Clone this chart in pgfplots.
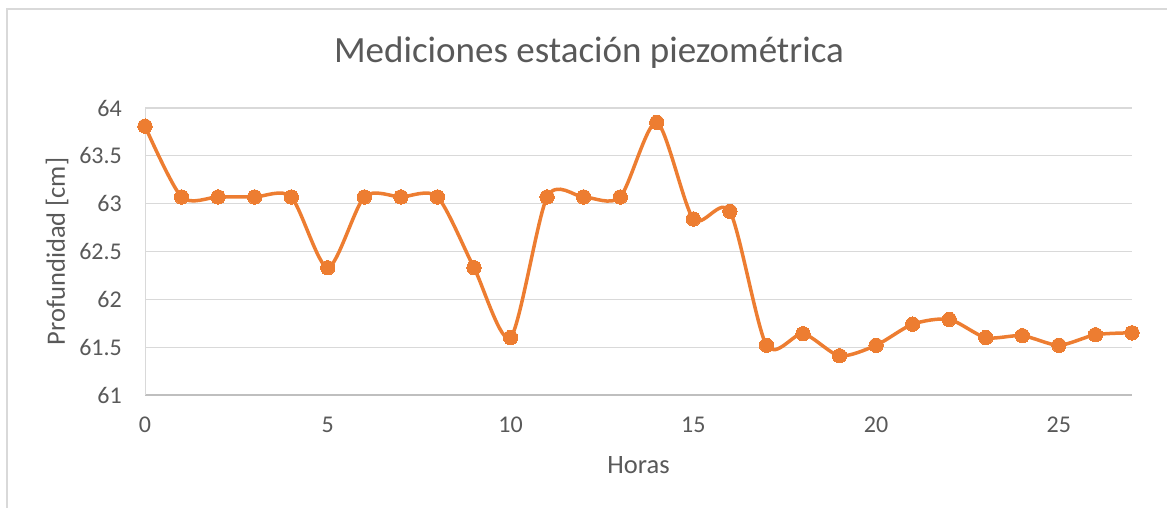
\documentclass[border=0pt]{standalone}
\usepackage{pgfplots}
\pgfplotsset{compat=1.18}
\usepackage{fontspec}
\setmainfont{Carlito}
\definecolor{txtgray}{RGB}{89,89,89}
\definecolor{gridgray}{RGB}{217,217,217}
\definecolor{axgray}{RGB}{191,191,191}
\definecolor{excelorange}{RGB}{237,125,49}
\begin{document}
\begin{tikzpicture}[x=1bp,y=1bp]
\path[use as bounding box] (0,0) rectangle (1167,508);
\draw[gridgray, line width=1.2bp] (7,0) -- (7,499) -- (1167,499);
\node[txtgray, font=\fontsize{37bp}{42bp}\selectfont] at (589,455) {Mediciones estación piezométrica};
\begin{axis}[
  at={(145bp,113bp)}, anchor=south west,
  scale only axis, width=987bp, height=287bp,
  xmin=0, xmax=27, ymin=61, ymax=64,
  xtick={0,5,...,25}, ytick={61,61.5,...,64},
  yticklabels={61,61.5,62,62.5,63,63.5,64},
  axis x line*=bottom, axis y line*=left,
  x axis line style={axgray, line width=1.2bp, -},
  y axis line style={gridgray, line width=1bp, -},
  ymajorgrids, grid style={gridgray, line width=1.2bp},
  major tick length=0pt,
  tick label style={txtgray, font=\fontsize{24bp}{28bp}\selectfont, inner sep=0pt},
  /pgf/number format/assume math mode=true,
  xticklabel style={anchor=center, yshift=-30bp},
  yticklabel style={anchor=east, xshift=-23bp},
  xlabel={Horas}, ylabel={Profundidad [cm]},
  label style={txtgray, font=\fontsize{26.5bp}{30bp}\selectfont},
  xlabel style={at={(axis description cs:0.5,-0.244)}, anchor=center},
  ylabel style={at={(axis description cs:-0.089,0.5)}, anchor=center},
  clip=false,
]
\addplot[excelorange, line width=3.5bp, smooth, tension=0.45,
  mark=*, mark size=7.2bp, mark options={fill=excelorange, draw=excelorange, line width=0bp}]
table {
0 63.81
1 63.07
2 63.07
3 63.07
4 63.07
5 62.33
6 63.07
7 63.07
8 63.07
9 62.33
10 61.60
11 63.07
12 63.07
13 63.07
14 63.85
15 62.84
16 62.92
17 61.52
18 61.64
19 61.41
20 61.52
21 61.74
22 61.79
23 61.60
24 61.62
25 61.52
26 61.63
27 61.65
};
\end{axis}
\end{tikzpicture}
\end{document}
